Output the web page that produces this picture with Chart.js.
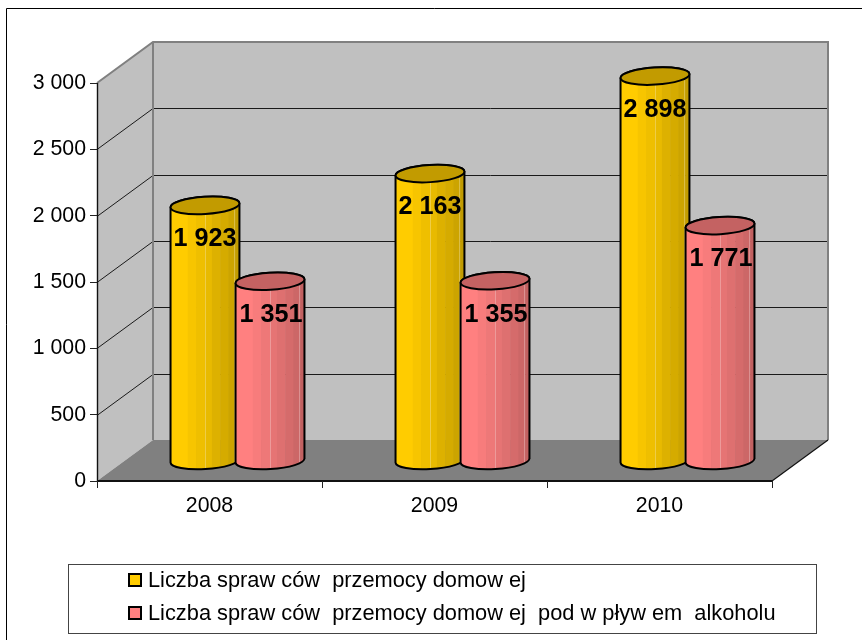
<!DOCTYPE html>
<html><head><meta charset="utf-8">
<style>html,body{margin:0;padding:0;background:#fff}canvas{display:block}</style>
<script src="https://cdn.jsdelivr.net/npm/chart.js@4"></script>
</head><body><div style="width:862px;height:640px"><canvas id="c" width="862" height="640"></canvas></div>
<script>
const categories = ['2008','2009','2010'];
const violenceCases = [1923,2163,2898];
const alcoholCases = [1351,1355,1771];
const seriesNames = ['Liczba spraw ców  przemocy domow ej','Liczba spraw ców  przemocy domow ej  pod w pływ em  alkoholu'];
const yTicks = [0,500,1000,1500,2000,2500,3000];
const FONT = '"Liberation Sans", Arial, sans-serif';
const DX = 56, DY = -41;
const fmt = v => String(v).replace(/\B(?=(\d{3})+$)/g,' ');
const palettes = [
  {bands:['#FFCC00','#F7C500','#EFBF00','#E8BA00','#DDB100','#D5AB00','#CCA400','#C29C00'],top:'#C29B00'},
  {bands:['#FF8080','#F77C7C','#EE7878','#E67474','#DE7070','#D56B6B','#CC6767','#C26161'],top:'#C46262'}
];
const bandEdges = [0,.25,.37,.5,.6,.72,.84,.94,1];

function cylinder(ctx, cx, yTop, yBase, r, pal){
  const ry = 8.6, rot = -0.06;
  ctx.save();
  const body = new Path2D();
  body.ellipse(cx,yBase,r,ry,rot,0,Math.PI);
  body.lineTo(cx-r*Math.cos(rot),yTop-r*Math.sin(rot));
  body.ellipse(cx,yTop,r,ry,rot,Math.PI,Math.PI*2);
  body.closePath();
  ctx.save(); ctx.clip(body);
  pal.bands.forEach((col,i)=>{
    ctx.fillStyle = col;
    const a = cx-r+2*r*bandEdges[i], b = cx-r+2*r*bandEdges[i+1];
    ctx.fillRect(a,yTop-r,b-a+.5,yBase-yTop+2*r);
  });
  ctx.strokeStyle='rgba(255,255,255,.28)'; ctx.lineWidth=1;
  [.5,.92].forEach(f=>{const x=Math.round(cx-r+2*r*f)+.5;ctx.beginPath();ctx.moveTo(x,yTop-r);ctx.lineTo(x,yBase+r);ctx.stroke();});
  ctx.restore();
  ctx.strokeStyle='#000'; ctx.lineWidth=2; ctx.stroke(body);
  const lid = new Path2D();
  lid.ellipse(cx,yTop,r,ry,rot,0,Math.PI*2);
  ctx.fillStyle=pal.top; ctx.fill(lid); ctx.stroke(lid);
  ctx.restore();
}

const scene = {
  id:'scene',
  beforeDraw(chart){
    const {ctx,chartArea:a,scales:{y}} = chart;
    ctx.save();
    ctx.fillStyle='#fff'; ctx.fillRect(0,0,chart.width,chart.height);
    ctx.strokeStyle='#000'; ctx.lineWidth=1;
    ctx.beginPath();ctx.moveTo(6.5,640);ctx.lineTo(6.5,8.5);ctx.lineTo(862,8.5);ctx.stroke();
    const L=a.left,R=a.right,T=y.getPixelForValue(3000),B=y.getPixelForValue(0);
    ctx.fillStyle='#C0C0C0';
    ctx.beginPath();ctx.moveTo(L,T);ctx.lineTo(L+DX,T+DY);ctx.lineTo(L+DX,B+DY);ctx.lineTo(L,B);ctx.closePath();ctx.fill();
    ctx.fillRect(L+DX,T+DY,R-L,B-T);
    ctx.fillStyle='#808080';
    ctx.beginPath();ctx.moveTo(L,B);ctx.lineTo(R,B);ctx.lineTo(R+DX,B+DY);ctx.lineTo(L+DX,B+DY);ctx.closePath();ctx.fill();
    ctx.strokeStyle='#1a1a1a';ctx.lineWidth=1;
    yTicks.filter(v=>v>0&&v<3000).forEach(v=>{
      const py=Math.round(y.getPixelForValue(v))+.5;
      ctx.beginPath();ctx.moveTo(L,py);ctx.lineTo(L+DX,py+DY);ctx.lineTo(R+DX,py+DY);ctx.stroke();
    });
    ctx.strokeStyle='#808080';ctx.lineWidth=2;
    ctx.beginPath();ctx.moveTo(L,T);ctx.lineTo(L+DX,T+DY);ctx.lineTo(R+DX,T+DY);ctx.lineTo(R+DX,B+DY);ctx.stroke();
    ctx.beginPath();ctx.moveTo(L+DX,T+DY);ctx.lineTo(L+DX,B+DY);ctx.stroke();
    ctx.strokeStyle='#111';ctx.lineWidth=1.4;
    ctx.beginPath();ctx.moveTo(L+.5,T);ctx.lineTo(L+.5,B);ctx.stroke();
    ctx.lineWidth=2;
    ctx.beginPath();ctx.moveTo(L,B);ctx.lineTo(R,B);ctx.stroke();
    ctx.lineWidth=1.2;
    ctx.beginPath();ctx.moveTo(R,B);ctx.lineTo(R+DX,B+DY);ctx.stroke();
    ctx.restore();
  },
  beforeDatasetsDraw(chart){
    const {ctx,scales:{y}} = chart;
    const yBase = y.getPixelForValue(0)+DY/2;
    categories.forEach((_,i)=>{
      chart.data.datasets.forEach((ds,k)=>{
        const el = chart.getDatasetMeta(k).data[i];
        cylinder(ctx, el.x+DX/2, el.y+DY/2, yBase, el.width/2+2, palettes[k]);
      });
    });
    ctx.save();
    ctx.fillStyle='#000';ctx.font='bold 25.2px '+FONT;ctx.textAlign='center';ctx.textBaseline='middle';
    categories.forEach((_,i)=>{
      chart.data.datasets.forEach((ds,k)=>{
        const el = chart.getDatasetMeta(k).data[i];
        ctx.fillText(fmt(ds.data[i]), el.x+DX/2+(k?1:0), el.y+DY/2+34);
      });
    });
    ctx.restore();
    return false;
  },
  beforeDatasetDraw(){ return false; },
  afterDraw(chart){
    const ctx=chart.ctx;
    ctx.save();
    ctx.fillStyle='#fff';ctx.strokeStyle='#444';ctx.lineWidth=1;
    ctx.fillRect(68.5,564.5,748,69);ctx.strokeRect(68.5,564.5,748,69);
    ctx.textAlign='left';ctx.textBaseline='alphabetic';ctx.font='21.8px '+FONT;
    chart.data.datasets.forEach((ds,k)=>{
      const cy=[580,613][k];
      ctx.fillStyle=ds.backgroundColor;ctx.strokeStyle='#000';ctx.lineWidth=2;
      ctx.fillRect(129,cy-6,12,12);ctx.strokeRect(129,cy-6,12,12);
      ctx.fillStyle='#000';
      ctx.fillText(ds.label,148,cy+7);
    });
    ctx.restore();
  }
};

new Chart(document.getElementById('c'),{
  type:'bar',
  data:{labels:categories,datasets:[
    {label:seriesNames[0],data:violenceCases,backgroundColor:'#FFCC00',borderColor:'#000'},
    {label:seriesNames[1],data:alcoholCases,backgroundColor:'#FF8080',borderColor:'#000'}
  ]},
  plugins:[scene],
  options:{
    responsive:false,animation:false,
    layout:{padding:{left:0,top:83,right:90,bottom:119}},
    datasets:{bar:{categoryPercentage:.578,barPercentage:1}},
    plugins:{legend:{display:false},tooltip:{enabled:false},title:{display:false}},
    scales:{
      x:{
        afterFit(s){s.height=40;},
        grid:{drawOnChartArea:false,drawTicks:true,tickLength:7,color:'#222',offset:true},
        border:{display:false},
        ticks:{color:'#000',font:{family:FONT,size:21.3},padding:5,maxRotation:0}
      },
      y:{
        min:0,max:3000,
        afterFit(s){s.width=97;},
        afterBuildTicks(s){s.ticks=yTicks.map(v=>({value:v}));},
        grid:{drawOnChartArea:false,drawTicks:true,tickLength:7,color:'#222'},
        border:{display:false},
        ticks:{color:'#000',font:{family:FONT,size:21.3},padding:4,callback:v=>fmt(v)}
      }
    }
  }
});
</script></body></html>
